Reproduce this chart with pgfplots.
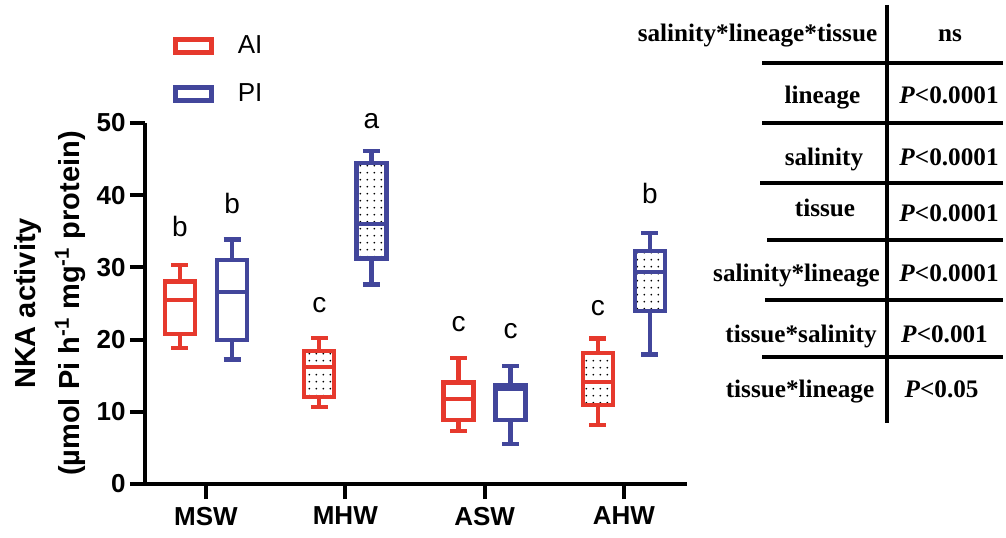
\documentclass[border=0pt]{standalone}
\usepackage{pgfplots}
\pgfplotsset{compat=1.18}
\usepgfplotslibrary{statistics}
\usetikzlibrary{patterns.meta}
\usepackage{fontspec}
\setmainfont{Liberation Sans}
\newfontfamily\tnr{Liberation Serif}
\definecolor{cRed}{RGB}{230,57,45}
\definecolor{cBlue}{RGB}{66,70,155}
\pgfdeclarepattern{name=mydots, type=uncolored,
  bottom left={\pgfpoint{0pt}{0pt}}, top right={\pgfpoint{3.65pt}{3.65pt}},
  tile size={\pgfpoint{3.65pt}{3.65pt}},
  code={\pgfpathcircle{\pgfpoint{1.8pt}{1.8pt}}{0.5pt}\pgfusepath{fill}}}
\pgfplotsset{
  AIbox/.style={draw=cRed, line width=2.2pt, solid, mark=none},
  PIbox/.style={draw=cBlue, line width=2.2pt, solid, mark=none},
  dotted box/.style={boxplot/every box/.style={pattern=mydots, pattern color=black}},
}
\begin{document}
\begin{tikzpicture}
\useasboundingbox (0,0) rectangle (503pt,268.5pt);
\begin{axis}[
  at={(72.5pt,26.5pt)}, anchor=south west,
  scale only axis, width=271pt, height=180.5pt,
  xmin=-0.438, xmax=3.453, ymin=0, ymax=50,
  axis x line*=bottom, axis y line*=left,
  axis line style={line width=2pt, black},
  xtick={0,1,2,3}, xticklabels={MSW,MHW,ASW,AHW},
  ytick={0,10,20,30,40,50},
  tick style={line width=2pt, black},
  major tick length=7.5pt,
  tick align=outside,
  /pgf/number format/assume math mode=true,
  ticklabel style={font=\fontsize{13}{15}\selectfont\bfseries},
  yticklabel style={inner sep=2pt},
  xticklabel style={inner sep=3.8pt},
  ylabel={NKA activity\\(µmol Pi h\textsuperscript{-1} mg\textsuperscript{-1} protein)},
  ylabel style={align=center, font=\fontsize{14.5}{22}\selectfont\bfseries,
     at={(axis description cs:-0.109,0.5)}, anchor=south, inner sep=0pt},
  clip=false,
  boxplot/draw direction=y,
  legend image code/.code={\draw[#1, line width=2.6pt, fill=none] (-1pt,-3.25pt) rectangle (17pt,3.25pt);},
  legend style={draw=none, fill=none, inner sep=0pt, at={(0.0509,1.2535)}, anchor=north west,
     font=\fontsize{13}{15}\selectfont, row sep=9.25pt, column sep=9.8pt, cells={anchor=west}},
]
\addlegendimage{draw=cRed}
\addlegendentry{AI}
\addlegendimage{draw=cBlue}
\addlegendentry{PI}

% MSW
\addplot[AIbox, boxplot prepared={draw position=-0.187, lower whisker=18.85, lower quartile=20.75, median=25.5, upper quartile=28.05, upper whisker=30.35, box extend=0.215, whisker extend=0.122}] coordinates {};
\addplot[PIbox, boxplot prepared={draw position=0.187, lower whisker=17.25, lower quartile=19.95, median=26.6, upper quartile=31.05, upper whisker=33.85, box extend=0.215, whisker extend=0.122}] coordinates {};
% MHW
\addplot[AIbox, dotted box, boxplot prepared={draw position=0.813, lower whisker=10.65, lower quartile=12.05, median=16.2, upper quartile=18.45, upper whisker=20.25, box extend=0.215, whisker extend=0.122}] coordinates {};
\addplot[PIbox, dotted box, boxplot prepared={draw position=1.187, lower whisker=27.65, lower quartile=31.25, median=36.0, upper quartile=44.45, upper whisker=46.15, box extend=0.215, whisker extend=0.122}] coordinates {};
% ASW
\addplot[AIbox, boxplot prepared={draw position=1.813, lower whisker=7.35, lower quartile=8.85, median=11.8, upper quartile=14.05, upper whisker=17.45, box extend=0.215, whisker extend=0.122}] coordinates {};
\addplot[PIbox, boxplot prepared={draw position=2.187, lower whisker=5.55, lower quartile=8.85, median=13.2, upper quartile=13.65, upper whisker=16.35, box extend=0.215, whisker extend=0.122}] coordinates {};
% AHW
\addplot[AIbox, dotted box, boxplot prepared={draw position=2.813, lower whisker=8.15, lower quartile=10.95, median=14.1, upper quartile=18.15, upper whisker=20.15, box extend=0.215, whisker extend=0.122}] coordinates {};
\addplot[PIbox, dotted box, boxplot prepared={draw position=3.187, lower whisker=17.95, lower quartile=23.95, median=29.4, upper quartile=32.25, upper whisker=34.75, box extend=0.215, whisker extend=0.122}] coordinates {};

% significance letters
\begin{scope}[every node/.style={font=\fontsize{14}{16}\selectfont, anchor=base, inner sep=0pt}]
\node at (axis cs:-0.187,34.3) {b};
\node at (axis cs:0.187,37.5) {b};
\node at (axis cs:0.813,23.8) {c};
\node at (axis cs:1.187,49.3) {a};
\node at (axis cs:1.813,21.1) {c};
\node at (axis cs:2.187,20.2) {c};
\node at (axis cs:2.813,23.3) {c};
\node at (axis cs:3.187,38.8) {b};
\end{scope}
\end{axis}

% statistics table (pixel coordinates of the reference)
\begin{scope}[x=0.5pt, y=-0.5pt, yshift=268.5pt]
  \draw[line width=1.8pt] (887,5) -- (887,423);
  \foreach \yy/\xx in {63/762, 123/762, 183/760, 240/767, 300/765, 357/762}
    \draw[line width=2pt] (\xx,\yy) -- (1003,\yy);
  \begin{scope}[every node/.style={font=\tnr\bfseries\fontsize{12.6}{14}\selectfont, anchor=base, inner sep=0pt}]
    \node at (757.5,42) {salinity*lineage*tissue};
    \node at (822.5,103) {lineage};
    \node at (824,165) {salinity};
    \node at (825,216) {tissue};
    \node at (796.5,281) {salinity*lineage};
    \node at (801,342) {tissue*salinity};
    \node at (800,397) {tissue*lineage};
    \node at (950,42) {ns};
    \node at (949,103) {\textit{P}<0.0001};
    \node at (949,165) {\textit{P}<0.0001};
    \node at (949,221) {\textit{P}<0.0001};
    \node at (949,281) {\textit{P}<0.0001};
    \node at (944.5,342) {\textit{P}<0.001};
    \node at (941.5,397) {\textit{P}<0.05};
  \end{scope}
\end{scope}
\end{tikzpicture}
\end{document}
